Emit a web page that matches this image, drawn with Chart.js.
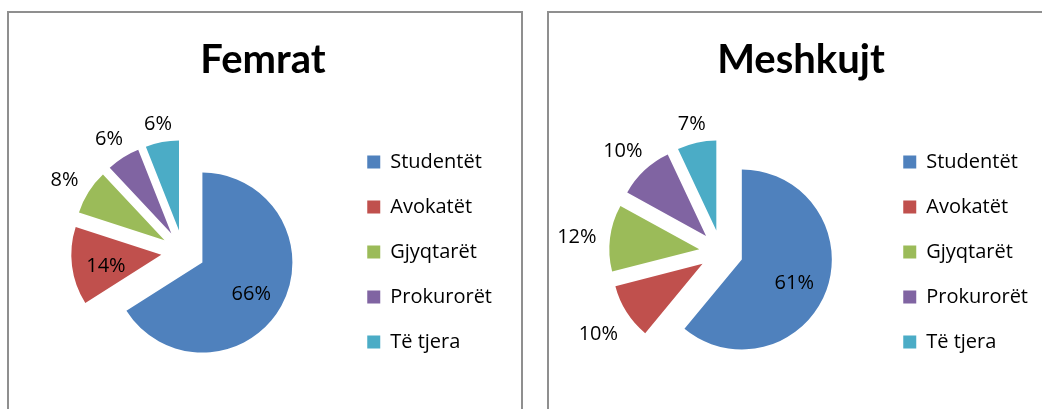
<!DOCTYPE html>
<html>
<head>
<meta charset="utf-8">
<script src="https://cdn.jsdelivr.net/npm/chart.js@4"></script>
<style>
  body { margin: 0; background: #fff; overflow: hidden; width: 1042px; height: 409px; position: relative; }
  .panel { position: absolute; top: 11px; width: 512px; height: 420px; border: 2px solid #8f8f8f; background: #fff; }
  canvas { display: block; }
</style>
</head>
<body>
<div class="panel" style="left:7px"><canvas id="femrat" width="512" height="420"></canvas></div>
<div class="panel" style="left:547px"><canvas id="meshkujt" width="512" height="420"></canvas></div>
<script>
const kategorite = ["Studentët", "Avokatët", "Gjyqtarët", "Prokurorët", "Të tjera"];
const femrat = [66, 14, 8, 6, 6];
const meshkujt = [61, 10, 12, 10, 7];

const ngjyrat = ["#4f81bd", "#c0504d", "#9bbb59", "#8064a2", "#4bacc6"];
const shkeputja = 22; // sa largohet cdo pjese nga qendra

// shtyn cdo pjese jashte sipas kendit te mesit
const pluginShkeputje = {
  id: "shkeputje",
  afterDatasetUpdate(chart, args) {
    args.meta.data.forEach(el => {
      const mes = (el.startAngle + el.endAngle) / 2;
      el.x += Math.cos(mes) * shkeputja;
      el.y += Math.sin(mes) * shkeputja;
    });
  }
};

// etiketat me perqindje
const pluginEtiketa = {
  id: "etiketa",
  afterDatasetsDraw(chart, args, opts) {
    const ctx = chart.ctx;
    const meta = chart.getDatasetMeta(0);
    const vlerat = chart.data.datasets[0].data;
    ctx.save();
    ctx.font = "20px 'Open Sans'";
    ctx.fillStyle = "#000";
    ctx.textAlign = "center";
    ctx.textBaseline = "middle";
    meta.data.forEach((el, i) => {
      const tekst = vlerat[i] + "%";
      const mes = (el.startAngle + el.endAngle) / 2;
      const c = Math.cos(mes), s = Math.sin(mes);
      let r, dy = 4;
      if (opts.brenda[i]) {
        r = el.outerRadius * 0.62;
        dy = 5;
      } else {
        const w = ctx.measureText(tekst).width;
        r = el.outerRadius + 13 + Math.abs(c) * w / 2 + Math.abs(s) * 7;
      }
      ctx.fillText(tekst, el.x + c * r, el.y + s * r + dy);
    });
    ctx.restore();
  }
};

function krijoGrafik(id, titulli, vlerat, padL, padR, brenda) {
  const ctx = document.getElementById(id).getContext("2d");
  return new Chart(ctx, {
    type: "pie",
    data: {
      labels: kategorite,
      datasets: [{
        data: vlerat,
        backgroundColor: ngjyrat,
        borderWidth: 0,
        radius: 90
      }]
    },
    plugins: [pluginShkeputje, pluginEtiketa],
    options: {
      responsive: false,
      animation: false,
      layout: { padding: { left: padL, right: padR, top: 0, bottom: 13 } },
      plugins: {
        title: {
          display: true,
          text: titulli,
          color: "#000",
          font: { family: "Lato", size: 40, weight: "bold" },
          padding: { top: 23, bottom: 0 }
        },
        legend: {
          position: "right",
          fullSize: false,
          labels: {
            color: "#000",
            boxWidth: 13,
            boxHeight: 13,
            padding: 25,
            font: { family: "Open Sans", size: 20 }
          }
        },
        tooltip: { enabled: false },
        etiketa: { brenda: brenda }
      }
    }
  });
}

krijoGrafik("femrat", "Femrat", femrat, 15, 19, [true, true, false, false, false]);
krijoGrafik("meshkujt", "Meshkujt", meshkujt, 15, 23, [true, false, false, false, false]);
</script>
</body>
</html>
